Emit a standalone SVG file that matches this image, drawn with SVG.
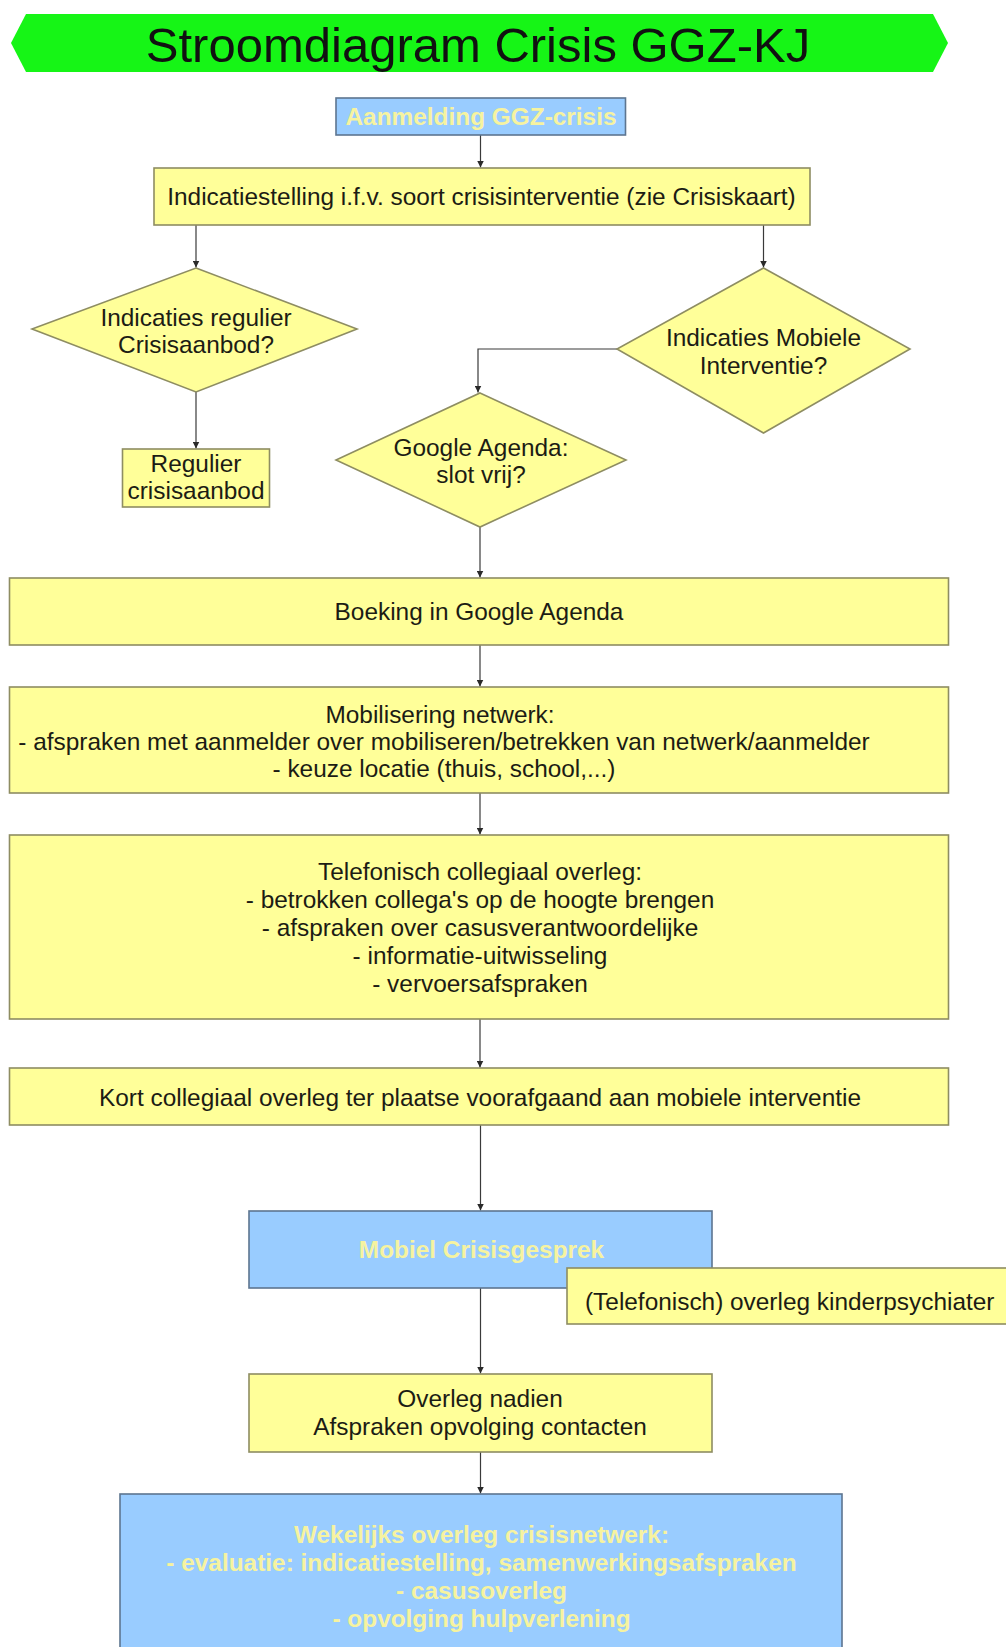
<svg xmlns="http://www.w3.org/2000/svg" width="1006" height="1647" viewBox="0 0 1006 1647">
<style>
  .y { fill: #ffff99; stroke: #8e8d62; stroke-width: 1.6; }
  .b { fill: #99ccff; stroke: #5d7590; stroke-width: 1.6; }
  .t { font-family: "Liberation Sans", Arial, sans-serif; font-size: 24.4px; fill: #1c1c14; text-anchor: middle; }
  .ts { font-family: "Liberation Sans", Arial, sans-serif; font-size: 24.4px; fill: #1c1c14; text-anchor: start; }
  .tb { font-family: "Liberation Sans", Arial, sans-serif; font-size: 24.4px; font-weight: bold; fill: #f6f3a0; text-anchor: middle; }
  .c { fill: none; stroke: #3a3a3a; stroke-width: 1.2; marker-end: url(#ah); }
</style>
<defs>
  <marker id="ah" viewBox="0 0 10 10" refX="10" refY="5" markerWidth="7" markerHeight="7" markerUnits="userSpaceOnUse" orient="auto">
    <path d="M0,0 L10,5 L0,10 Z" fill="#2a2a2a"/>
  </marker>
</defs>
<rect width="1006" height="1647" fill="#ffffff"/>

<g id="title">
  <polygon points="11,43 26,14 933,14 948,43 933,72 26,72" fill="#16f516"/>
  <text x="478" y="62" font-family="Liberation Sans, Arial, sans-serif" font-size="49" fill="#111" text-anchor="middle">Stroomdiagram Crisis GGZ-KJ</text>
</g>

<g id="connectors">
  <path class="c" d="M480.5,135 V167.5"/>
  <path class="c" d="M196,225 V267.5"/>
  <path class="c" d="M763.5,225 V267.5"/>
  <path class="c" d="M196,392 V448.5"/>
  <path class="c" d="M617,349 H478 V392.5"/>
  <path class="c" d="M480,527 V577.5"/>
  <path class="c" d="M480,645 V686.5"/>
  <path class="c" d="M480,793 V834.5"/>
  <path class="c" d="M480,1019 V1067.5"/>
  <path class="c" d="M480.5,1125 V1210.5"/>
  <path class="c" d="M480.5,1288 V1373.5"/>
  <path class="c" d="M480.5,1452 V1493.5"/>
</g>

<g id="aanmelding">
  <rect class="b" x="336" y="98" width="289.5" height="37"/>
  <text class="tb" x="481" y="125">Aanmelding GGZ-crisis</text>
</g>

<g id="indicatiestelling">
  <rect class="y" x="154" y="168" width="656" height="57"/>
  <text class="t" x="481.5" y="205">Indicatiestelling i.f.v. soort crisisinterventie (zie Crisiskaart)</text>
</g>

<g id="diamond-regulier">
  <polygon class="y" points="196,268 357,329 196,392 32,329"/>
  <text class="t" x="196" y="326">Indicaties regulier</text>
  <text class="t" x="196" y="353">Crisisaanbod?</text>
</g>

<g id="diamond-mobiel">
  <polygon class="y" points="763.5,268 910,349 763.5,433 617,349"/>
  <text class="t" x="763.5" y="346">Indicaties Mobiele</text>
  <text class="t" x="763.5" y="374">Interventie?</text>
</g>

<g id="regulier-aanbod">
  <rect class="y" x="122.5" y="449" width="147" height="58"/>
  <text class="t" x="196" y="472">Regulier</text>
  <text class="t" x="196" y="499">crisisaanbod</text>
</g>

<g id="diamond-google">
  <polygon class="y" points="480,393 626,460 480,527 336,460"/>
  <text class="t" x="481" y="456">Google Agenda:</text>
  <text class="t" x="481" y="483">slot vrij?</text>
</g>

<g id="boeking">
  <rect class="y" x="9.5" y="578" width="939" height="67"/>
  <text class="t" x="479" y="620">Boeking in Google Agenda</text>
</g>

<g id="mobilisering">
  <rect class="y" x="9.5" y="687" width="939" height="106"/>
  <text class="t" x="440" y="723">Mobilisering netwerk:</text>
  <text class="t" x="444" y="750">- afspraken met aanmelder over mobiliseren/betrekken van netwerk/aanmelder</text>
  <text class="t" x="444" y="777">- keuze locatie (thuis, school,...)</text>
</g>

<g id="telefonisch-overleg">
  <rect class="y" x="9.5" y="835" width="939" height="184"/>
  <text class="t" x="480" y="880">Telefonisch collegiaal overleg:</text>
  <text class="t" x="480" y="908">- betrokken collega's op de hoogte brengen</text>
  <text class="t" x="480" y="936">- afspraken over casusverantwoordelijke</text>
  <text class="t" x="480" y="964">- informatie-uitwisseling</text>
  <text class="t" x="480" y="992">- vervoersafspraken</text>
</g>

<g id="kort-overleg">
  <rect class="y" x="9.5" y="1068" width="939" height="57"/>
  <text class="t" x="480" y="1106">Kort collegiaal overleg ter plaatse voorafgaand aan mobiele interventie</text>
</g>

<g id="mobiel-crisisgesprek">
  <rect class="b" x="249" y="1211" width="463" height="77"/>
  <text class="tb" x="481.5" y="1258">Mobiel Crisisgesprek</text>
</g>

<g id="kinderpsychiater">
  <rect class="y" x="567" y="1268" width="450" height="56"/>
  <text class="ts" x="585" y="1310">(Telefonisch) overleg kinderpsychiater</text>
</g>

<g id="overleg-nadien">
  <rect class="y" x="249" y="1374" width="463" height="78"/>
  <text class="t" x="480" y="1407">Overleg nadien</text>
  <text class="t" x="480" y="1435">Afspraken opvolging contacten</text>
</g>

<g id="wekelijks-overleg">
  <rect class="b" x="120" y="1494" width="722" height="170"/>
  <text class="tb" x="481.5" y="1543">Wekelijks overleg crisisnetwerk:</text>
  <text class="tb" x="481.5" y="1571">- evaluatie: indicatiestelling, samenwerkingsafspraken</text>
  <text class="tb" x="481.5" y="1599">- casusoverleg</text>
  <text class="tb" x="481.5" y="1627">- opvolging hulpverlening</text>
</g>
</svg>
